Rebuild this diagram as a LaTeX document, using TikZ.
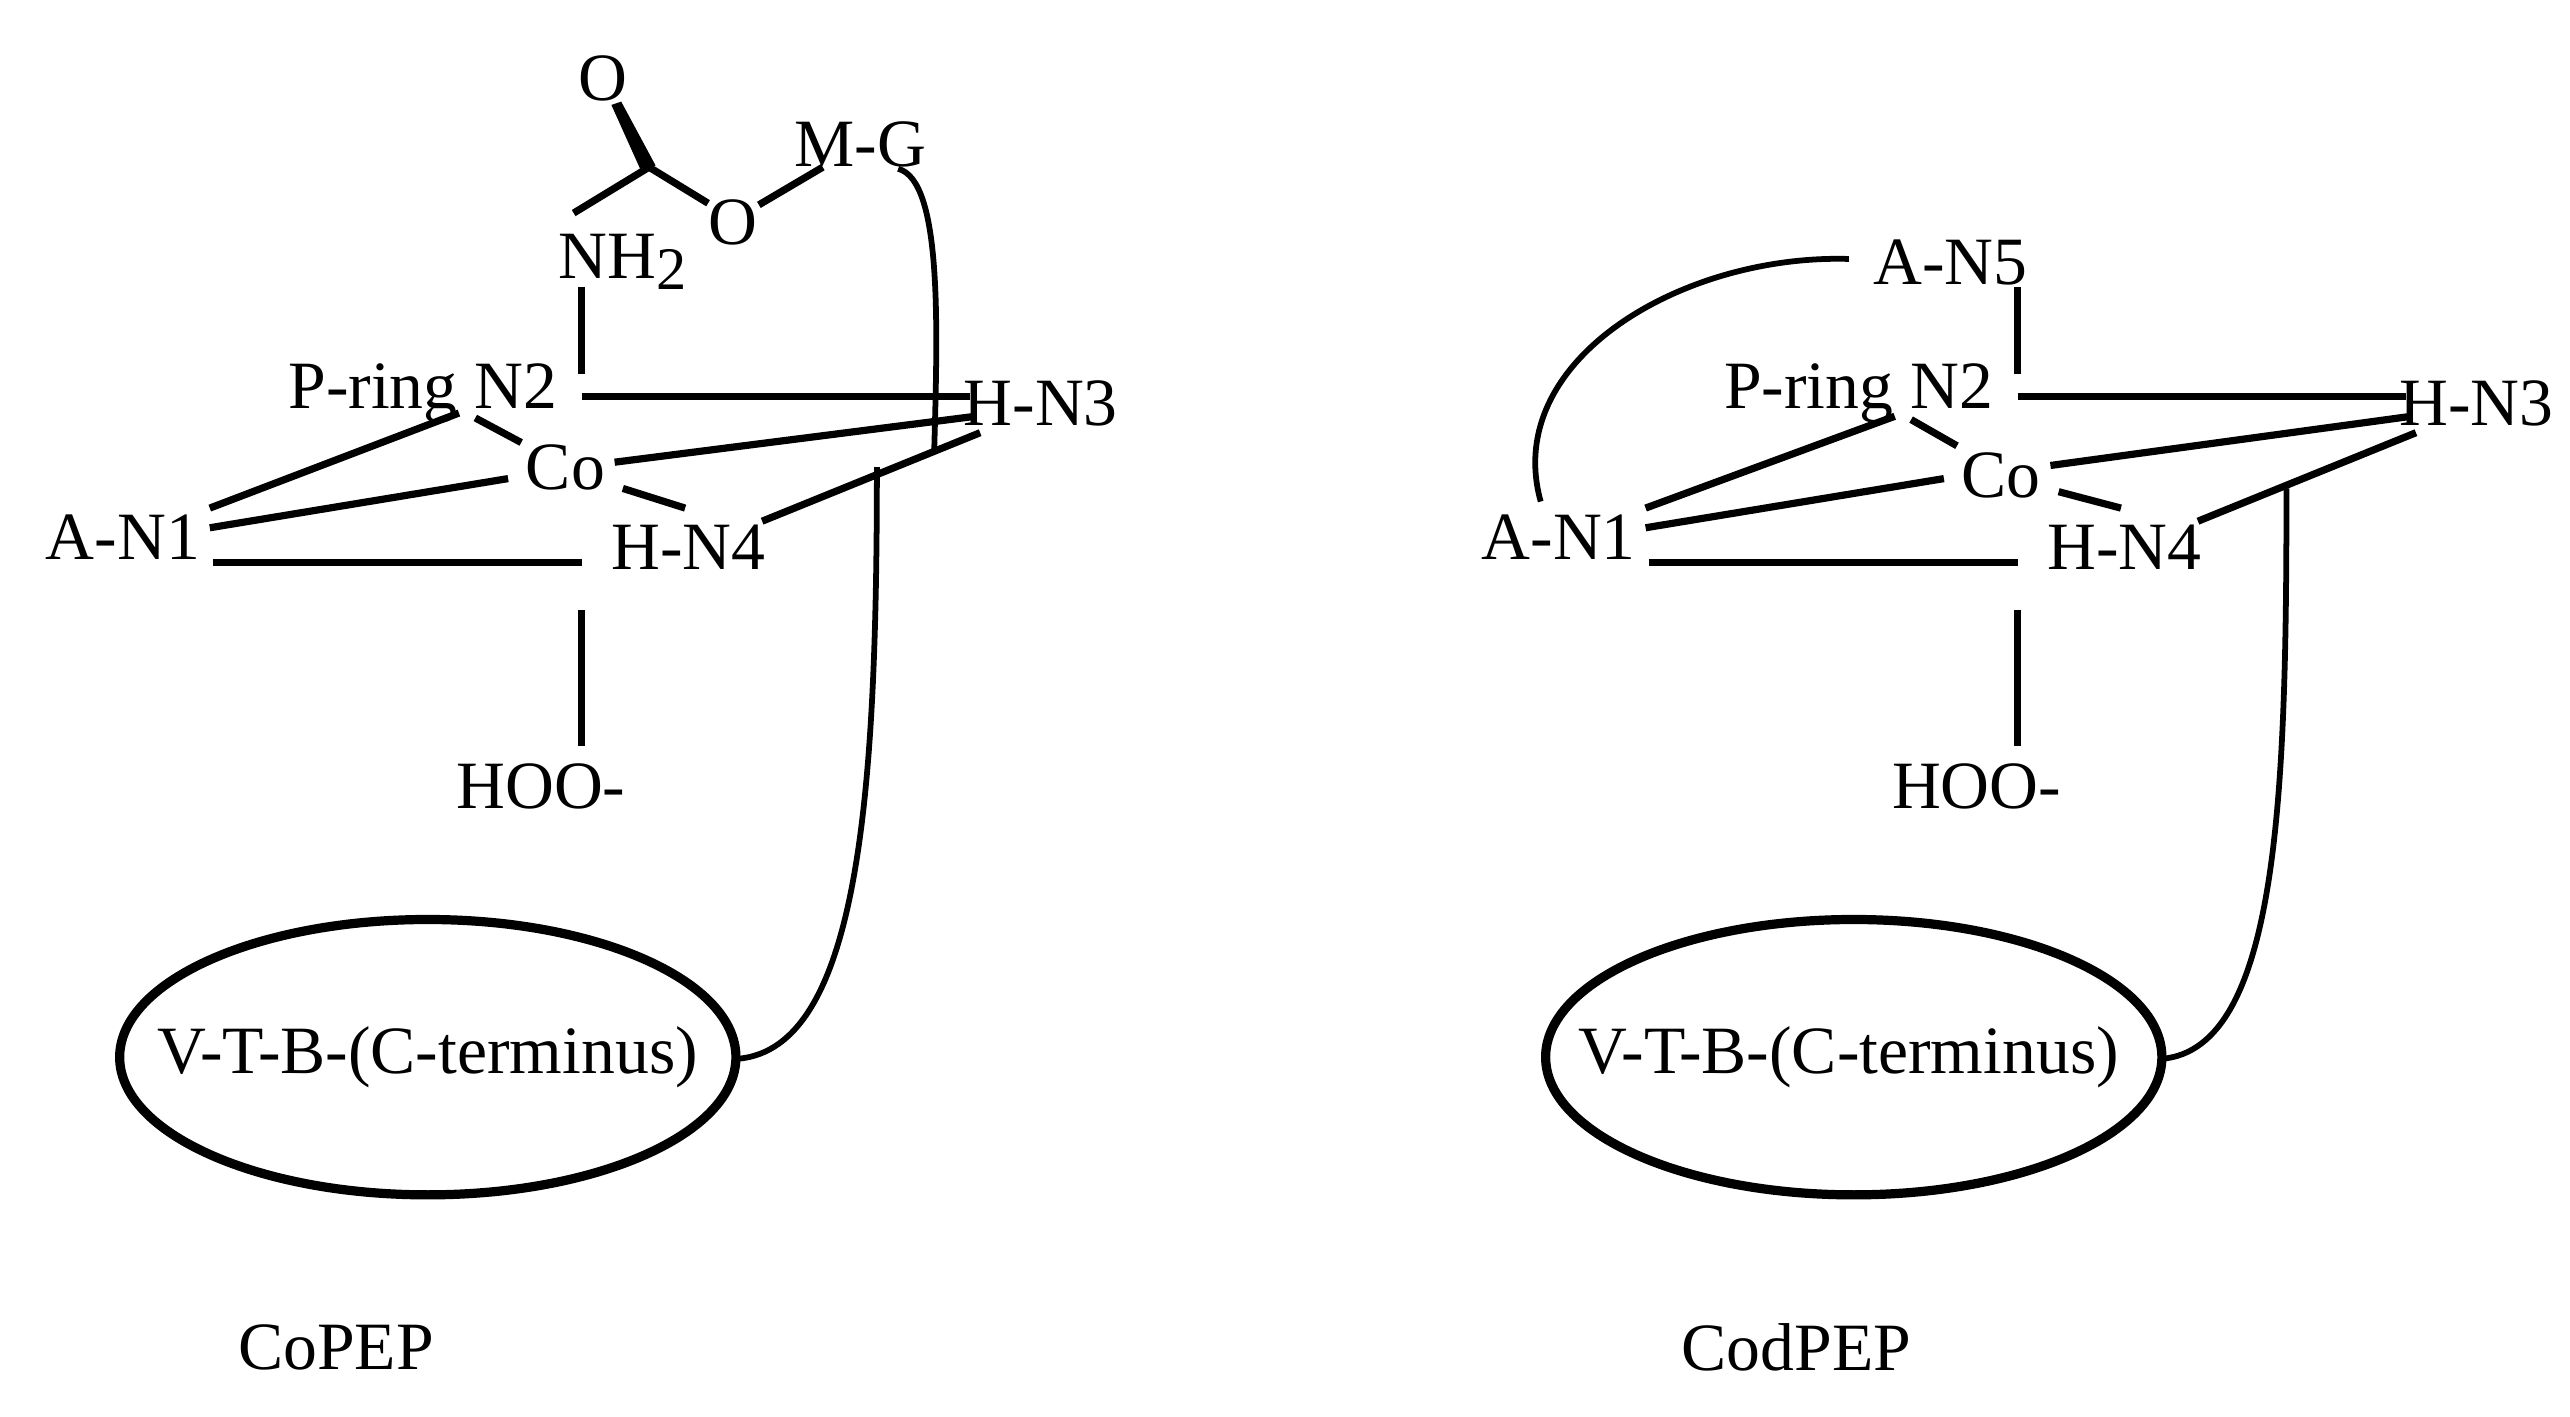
\documentclass[tikz,border=0pt]{standalone}
\usepackage{fontspec}
\setmainfont{Liberation Serif}
\begin{document}
\begin{tikzpicture}[x=0.02cm,y=-0.02cm,
  lbl/.style={font=\fontsize{23.5}{26}\selectfont, inner sep=0pt},
  bond/.style={line width=2.5pt},
  thin/.style={line width=2pt},
  ell/.style={line width=3.2pt}]
\useasboundingbox (0,0) rectangle (1568,864);
% ---------- left: CoPEP
\node[lbl] (O1) at (368,48) {O};
\node[lbl] (MG) at (525,88) {M-G};
\node[lbl] (O2) at (447,136) {O};
\node[lbl] (NH) at (380,160) {NH\raisebox{-0.35ex}{\fontsize{21}{24}\selectfont 2}};
\node[lbl] (PN) at (258,240) {P-ring N2};
\node[lbl] (HN3) at (635,246) {H-N3};
\node[lbl] (Co) at (345,285) {Co};
\node[lbl] (AN1) at (75,328) {A-N1};
\node[lbl] (HN4) at (420,334) {H-N4};
\node[lbl] (HOO) at (330,480) {HOO-};
\node[lbl] (VT) at (261,645) {V-T-B-(C-terminus)};
\node[lbl] (cp) at (205,822) {CoPEP};
\fill (373,64) -- (379,62) -- (400,101) -- (391,104) -- cycle;
\draw[bond] (396,102) -- (350,130);
\draw[bond] (396,102) -- (432,124);
\draw[bond] (463,125) -- (502,102);
\draw[bond] (355,175) -- (355,228);
\draw[bond] (355,242) -- (592,242);
\draw[bond] (128,310) -- (280,252);
\draw[bond] (128,322) -- (310,292);
\draw[bond] (375,282) -- (595,254);
\draw[bond] (290,255) -- (318,270);
\draw[bond] (380,298) -- (418,310);
\draw[bond] (465,318) -- (598,264);
\draw[bond] (130,343) -- (355,343);
\draw[bond] (355,372) -- (355,455);
\draw[thin] (548,103) .. controls (575,110) and (572,200) .. (570,274);
\draw[ell] (261,645) ellipse [x radius=188, y radius=84];
\draw[thin] (450,646) .. controls (525,640) and (535,480) .. (535,285);
% ---------- right: CodPEP
\begin{scope}[xshift=876*0.02cm]
\node[lbl] (AN5) at (314,160) {A-N5};
\node[lbl] (PNb) at (258,240) {P-ring N2};
\node[lbl] (HN3b) at (635,246) {H-N3};
\node[lbl] (Cob) at (345,290) {Co};
\node[lbl] (AN1b) at (75,328) {A-N1};
\node[lbl] (HN4b) at (420,334) {H-N4};
\node[lbl] (HOOb) at (330,480) {HOO-};
\node[lbl] (VTb) at (252,645) {V-T-B-(C-terminus)};
\node[lbl] (cpb) at (220,822) {CodPEP};
\draw[bond] (355,175) -- (355,228);
\draw[thin] (64,306) .. controls (40,220) and (150,155) .. (252,158);
\draw[bond] (355,242) -- (592,242);
\draw[bond] (128,310) -- (280,254);
\draw[bond] (128,322) -- (310,292);
\draw[bond] (375,284) -- (595,254);
\draw[bond] (290,256) -- (318,272);
\draw[bond] (380,300) -- (418,310);
\draw[bond] (465,318) -- (598,264);
\draw[bond] (130,343) -- (355,343);
\draw[bond] (355,372) -- (355,455);
\draw[ell] (255,645) ellipse [x radius=188, y radius=84];
\draw[thin] (443,646) .. controls (515,640) and (519,480) .. (519,298);
\end{scope}
\end{tikzpicture}
\end{document}
